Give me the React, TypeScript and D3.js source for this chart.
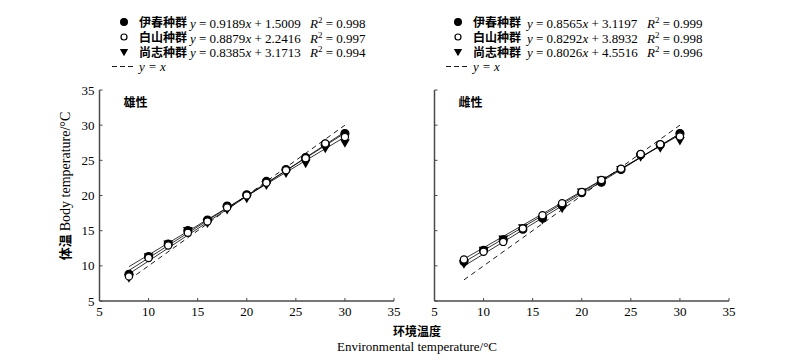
import React, { useRef, useEffect } from 'react';
import * as d3 from 'd3';

const temps = [8, 10, 12, 14, 16, 18, 20, 22, 24, 26, 28, 30];
const seriesNames = ['伊春种群', '白山种群', '尚志种群'];
const symbols = ['filled', 'open', 'triangle'];

// 雄性
const maleYichun = [8.8, 11.3, 13.1, 15.0, 16.5, 18.5, 20.1, 22.0, 23.7, 25.4, 27.3, 28.8];
const maleBaishan = [8.5, 11.1, 12.9, 14.7, 16.3, 18.3, 20.0, 21.8, 23.6, 25.3, 27.4, 28.3];
const maleShangzhi = [8.4, 11.4, 13.2, 15.1, 16.2, 18.1, 19.7, 21.6, 23.3, 24.7, 26.8, 27.6];
const maleSlope = [0.9189, 0.8879, 0.8385];
const maleIntercept = [1.5009, 2.2416, 3.1713];
const maleR2 = ['0.998', '0.997', '0.994'];

// 雌性
const femaleYichun = [10.6, 12.2, 13.7, 15.2, 16.8, 18.6, 20.4, 21.9, 23.7, 25.8, 27.2, 28.8];
const femaleBaishan = [10.9, 12.0, 13.4, 15.3, 17.2, 18.9, 20.5, 22.2, 23.8, 25.9, 27.3, 28.4];
const femaleShangzhi = [10.4, 12.3, 13.9, 15.5, 16.7, 18.3, 20.6, 22.3, 23.8, 25.6, 26.9, 27.9];
const femaleSlope = [0.8565, 0.8292, 0.8026];
const femaleIntercept = [3.1197, 3.8932, 4.5516];
const femaleR2 = ['0.999', '0.998', '0.996'];

const ticks = [5, 10, 15, 20, 25, 30, 35];

const serif = '"Liberation Serif", "Times New Roman", serif';
const cjk = '"Noto Sans CJK SC", sans-serif';

const App = () => {
  const svgRef = useRef(null);

  useEffect(() => {
    draw();
  }, []);

  const draw = () => {
    const svg = d3.select(svgRef.current);
    svg.selectAll('*').remove();

    const top = 90, bottom = 301;

    const panels = [
      { left: 99.5, right: 394, title: '雄性', data: [maleYichun, maleBaishan, maleShangzhi], slope: maleSlope, inter: maleIntercept, r2: maleR2, legX: 124, eqX: 190, r2X: 310, yLabels: true },
      { left: 434.5, right: 729, title: '雌性', data: [femaleYichun, femaleBaishan, femaleShangzhi], slope: femaleSlope, inter: femaleIntercept, r2: femaleR2, legX: 458, eqX: 527, r2X: 647, yLabels: false },
    ];

    panels.forEach((p) => {
      const x = d3.scaleLinear().domain([5, 35]).range([p.left, p.right]);
      const y = d3.scaleLinear().domain([5, 35]).range([bottom, top]);
      const g = svg.append('g');

      // axes
      const axisColor = '#4a4a4a';
      g.append('line').attr('x1', p.left).attr('x2', p.right).attr('y1', bottom).attr('y2', bottom)
        .attr('stroke', axisColor).attr('stroke-width', 1.5);
      g.append('line').attr('x1', p.left).attr('x2', p.left).attr('y1', bottom).attr('y2', top)
        .attr('stroke', axisColor).attr('stroke-width', 1.5);

      ticks.forEach((t) => {
        g.append('line').attr('x1', x(t)).attr('x2', x(t)).attr('y1', bottom).attr('y2', bottom - 3)
          .attr('stroke', axisColor).attr('stroke-width', 1);
        g.append('text').attr('x', x(t)).attr('y', bottom + 15).attr('text-anchor', 'middle')
          .style('font-family', serif).style('font-size', '13px').text(t);
        g.append('line').attr('x1', p.left).attr('x2', p.left + 3).attr('y1', y(t)).attr('y2', y(t))
          .attr('stroke', axisColor).attr('stroke-width', 1);
        if (p.yLabels) {
          g.append('text').attr('x', p.left - 5).attr('y', y(t) + 4.5).attr('text-anchor', 'end')
            .style('font-family', serif).style('font-size', '13px').text(t);
        }
      });

      // title
      g.append('text').attr('x', p.left + 24).attr('y', top + 17)
        .style('font-family', cjk).style('font-size', '12px').style('font-weight', 'bold').text(p.title);

      // y = x
      g.append('line').attr('x1', x(8)).attr('x2', x(30)).attr('y1', y(8)).attr('y2', y(30))
        .attr('stroke', '#000').attr('stroke-width', 0.9).attr('stroke-dasharray', '5,4');

      // regression lines
      p.slope.forEach((s, i) => {
        g.append('line').attr('x1', x(8)).attr('x2', x(30))
          .attr('y1', y(s * 8 + p.inter[i])).attr('y2', y(s * 30 + p.inter[i]))
          .attr('stroke', '#000').attr('stroke-width', 0.8);
      });

      // points
      const drawSym = (sel, kind, cx, cy, small = false) => {
        if (kind === 'triangle') {
          sel.append('path')
            .attr('d', d3.symbol(d3.symbolTriangle, small ? 30 : 42)())
            .attr('transform', `translate(${cx},${cy}) rotate(180)`)
            .attr('fill', '#000');
        } else {
          const r = kind === 'open' ? (small ? 3 : 3.6) : (small ? 3.4 : 4);
          sel.append('circle').attr('cx', cx).attr('cy', cy).attr('r', r)
            .attr('fill', kind === 'open' ? '#fff' : '#000').attr('stroke', '#000').attr('stroke-width', 1.2);
        }
      };

      [2, 0, 1].forEach((si) => {
        p.data[si].forEach((v, j) => drawSym(g, symbols[si], x(temps[j]), y(v)));
      });

      // legend
      const rows = [22.5, 37.5, 52];
      seriesNames.forEach((nm, i) => {
        drawSym(g, symbols[i], p.legX, rows[i] - 0.5, true);
        const fs = '13px';
        g.append('text').attr('x', p.legX + 15).attr('y', rows[i] + 4.5)
          .style('font-family', cjk).style('font-size', '12px').style('font-weight', 'bold').text(nm);
        const eq = g.append('text').attr('x', p.eqX).attr('y', rows[i] + 5)
          .style('font-family', serif).style('font-size', fs);
        eq.append('tspan').style('font-style', 'italic').text('y');
        eq.append('tspan').text(` = ${p.slope[i].toFixed(4)}`);
        eq.append('tspan').style('font-style', 'italic').text('x');
        eq.append('tspan').text(` + ${p.inter[i].toFixed(4)}`);
        const r = g.append('text').attr('x', p.r2X).attr('y', rows[i] + 5)
          .style('font-family', serif).style('font-size', fs);
        r.append('tspan').style('font-style', 'italic').text('R');
        r.append('tspan').attr('dy', -5).style('font-size', '9px').text('2');
        r.append('tspan').attr('dy', 5).text(` = ${p.r2[i]}`);
      });
      g.append('line').attr('x1', p.legX - 12).attr('x2', p.legX + 9).attr('y1', 66.5).attr('y2', 66.5)
        .attr('stroke', '#000').attr('stroke-width', 0.9).attr('stroke-dasharray', '5,3');
      g.append('text').attr('x', p.legX + 15).attr('y', 71)
        .style('font-family', serif).style('font-size', '13px').style('font-style', 'italic')
        .text('y = x');
    });

    // axis titles
    svg.append('text').attr('x', 417).attr('y', 336).attr('text-anchor', 'middle')
      .style('font-family', cjk).style('font-size', '12px').style('font-weight', 'bold').text('环境温度');
    svg.append('text').attr('x', 417).attr('y', 351).attr('text-anchor', 'middle')
      .style('font-family', serif).style('font-size', '13px').text('Environmental temperature/°C');

    const yl = svg.append('text').attr('text-anchor', 'middle')
      .attr('transform', 'translate(70,186) rotate(-90)')
      .style('font-family', serif).style('font-size', '14px');
    yl.append('tspan').style('font-family', cjk).style('font-size', '13px').style('font-weight', 'bold').text('体温 ');
    yl.append('tspan').text('Body temperature/°C');
  };

  return (
    <svg width={800} height={362} style={{ position: 'absolute', left: 0, top: 0, background: '#fff' }}>
      <g ref={svgRef} />
    </svg>
  );
};

export default App;
